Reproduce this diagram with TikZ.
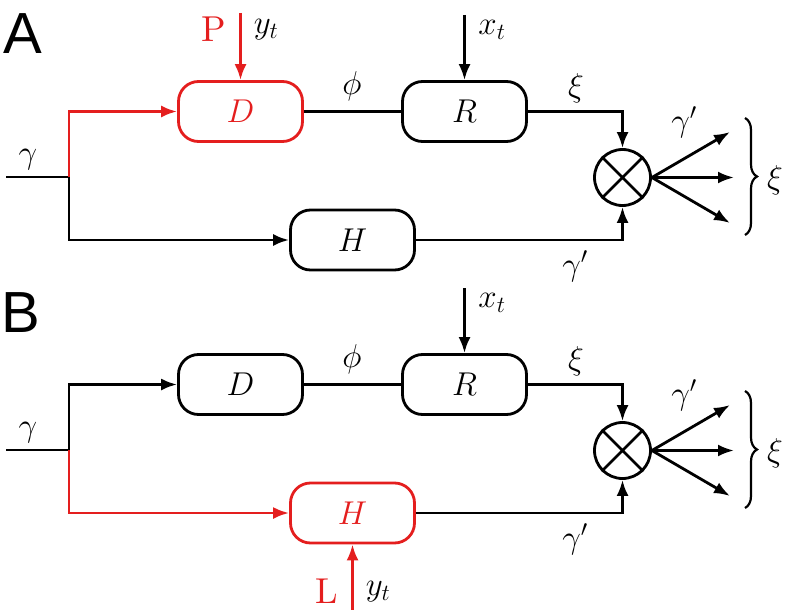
\RequirePackage{fix-cm}
\documentclass[tikz,border=0pt]{standalone}
\usepackage{fontspec}
\newfontfamily\panelfont{Liberation Sans}
\newfontfamily\lmr{lmroman10-regular.otf}
\usetikzlibrary{arrows.meta,decorations.pathreplacing,calc}
\definecolor{myred}{RGB}{228,30,30}
\begin{document}
\begin{tikzpicture}[x=1pt,y=-1pt,
  line width=2.8pt,
  every node/.style={font=\fontsize{33}{40}\selectfont, inner sep=0pt},
  blk/.style={draw, rounded corners=20pt, minimum width=124pt, minimum height=60pt},
  mult/.style={draw, circle, minimum size=56pt},
  arr/.style={-{Latex[length=16pt,width=12pt]}},
  plabel/.style={font=\panelfont\fontsize{58}{64}\selectfont},
  rmlab/.style={text=myred, font=\lmr\fontsize{36}{42}\selectfont},
  brc/.style={decorate, decoration={brace, amplitude=12pt}}
]
\useasboundingbox (0,0) rectangle (790,610);
% ---------------- Panel A ----------------
\node[plabel] (Alab) at (23,34) {A};
\coordinate (ain) at (6,177);
\coordinate (asplit) at (69,177);
\node[blk, draw=myred, text=myred] (aD) at (240.5,111.5) {$D$};
\node[blk] (aR) at (464.5,111.5) {$R$};
\node[blk] (aH) at (352.5,240) {$H$};
\node[mult] (aM) at (622.5,177.5) {};
\draw (aM.north west) -- (aM.south east) (aM.north east) -- (aM.south west);
\draw (ain) -- (asplit);
\draw[myred, arr] (asplit) -- (asplit |- aD) -- (aD.west);
\draw[arr] (asplit) -- (asplit |- aH) -- (aH.west);
\coordinate (aP) at (240.5,13);
\draw[myred, arr] (aP) -- (aD.north);
\node[rmlab] (aPl) at (214,29) {P};
\node (ayt) at (266,30) {$y_t$};
\coordinate (ax) at (464.5,15);
\draw[arr] (ax) -- (aR.north);
\node (axt) at (492,30) {$x_t$};
\draw (aD.east) -- (aR.west);
\node (aphi) at (352,86) {$\phi$};
\draw[arr] (aR.east) -| (aM.north);
\node (axi1) at (576,88) {$\xi$};
\draw[arr] (aH.east) -| (aM.south);
\node (ag2) at (575,266) {$\gamma'$};
\node (ag1) at (28,160) {$\gamma$};
\coordinate (ao1) at (730,132);
\coordinate (ao2) at (734,177.5);
\coordinate (ao3) at (730,223);
\draw[arr] (aM.east) -- (ao1);
\draw[arr] (aM.east) -- (ao2);
\draw[arr] (aM.east) -- (ao3);
\node (ag3) at (684,122) {$\gamma'$};
\coordinate (ab1) at (745,118);
\coordinate (ab2) at (745,235);
\draw[brc, line width=2.2pt] (ab1) -- (ab2);
\node (axi2) at (775,180) {$\xi$};
% ---------------- Panel B ----------------
\begin{scope}[shift={(0,273)}]
\node[plabel] (Blab) at (21,40) {B};
\coordinate (bin) at (6,177);
\coordinate (bsplit) at (69,177);
\node[blk] (bD) at (240.5,111.5) {$D$};
\node[blk] (bR) at (464.5,111.5) {$R$};
\node[blk, draw=myred, text=myred] (bH) at (352.5,240) {$H$};
\node[mult] (bM) at (622.5,177.5) {};
\draw (bM.north west) -- (bM.south east) (bM.north east) -- (bM.south west);
\draw (bin) -- (bsplit);
\draw[arr] (bsplit) -- (bsplit |- bD) -- (bD.west);
\draw[myred, arr] (bsplit) -- (bsplit |- bH) -- (bH.west);
\coordinate (bL) at (352.5,337);
\draw[myred, arr] (bL) -- (bH.south);
\node[rmlab] (bLl) at (327,318) {L};
\node (byt) at (378,319) {$y_t$};
\coordinate (bx) at (464.5,15);
\draw[arr] (bx) -- (bR.north);
\node (bxt) at (492,30) {$x_t$};
\draw (bD.east) -- (bR.west);
\node (bphi) at (352,86) {$\phi$};
\draw[arr] (bR.east) -| (bM.north);
\node (bxi1) at (576,88) {$\xi$};
\draw[arr] (bH.east) -| (bM.south);
\node (bg2) at (575,266) {$\gamma'$};
\node (bg1) at (28,160) {$\gamma$};
\coordinate (bo1) at (730,132);
\coordinate (bo2) at (734,177.5);
\coordinate (bo3) at (730,223);
\draw[arr] (bM.east) -- (bo1);
\draw[arr] (bM.east) -- (bo2);
\draw[arr] (bM.east) -- (bo3);
\node (bg3) at (684,122) {$\gamma'$};
\coordinate (bb1) at (745,118);
\coordinate (bb2) at (745,235);
\draw[brc, line width=2.2pt] (bb1) -- (bb2);
\node (bxi2) at (775,180) {$\xi$};
\end{scope}
\end{tikzpicture}
\end{document}
